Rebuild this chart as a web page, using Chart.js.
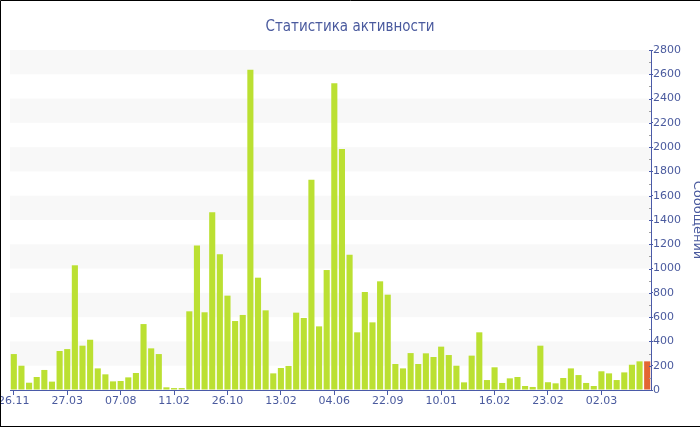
<!DOCTYPE html>
<html><head><meta charset="utf-8">
<script src="https://cdn.jsdelivr.net/npm/chart.js@4"></script>
<style>html,body{margin:0;padding:0;background:#fff}#wrap{position:relative;width:700px;height:430px}</style>
</head><body><div id="wrap"><canvas id="c" width="700" height="430"></canvas></div>
<script>
const chartTitle = 'Статистика активности';
const yTitle = 'Сообщений';
const tickLabels = ['26.11','27.03','07.08','11.02','26.10','13.02','04.06','22.09','10.01','16.02','23.02','02.03'];
const labelEvery = 7;
const messages = [296,200,60,107,165,69,321,337,1027,365,
  414,178,129,71,74,104,140,543,343,296,
  22,16,16,648,1191,640,1463,1117,777,568,
  618,2638,925,656,137,181,198,637,593,1732,
  524,988,2526,1985,1114,475,807,557,895,785,
  214,178,304,214,302,272,357,288,200,63,
  283,475,82,187,58,96,107,33,25,365,
  64,55,99,178,123,58,33,154,137,82,
  145,208,236,236];
const highlightIndex = messages.length - 1;
const yMin = 0, yMax = 2800, yStep = 200, yMinorStep = 100;

const categories = messages.map((_, i) => i % labelEvery === 0 ? tickLabels[i / labelEvery] : '');

const GREEN = '#bbe032', RED = '#e36632', AXIS = '#4a5aa8', TXT = '#4a5a9e', BAND = '#f8f8f8';
const FONT = "'DejaVu Sans', Verdana, sans-serif";

const bandsPlugin = {
  id: 'bands',
  beforeDatasetsDraw(chart) {
    const {ctx, chartArea: a, scales: {y}} = chart;
    ctx.save();
    ctx.fillStyle = BAND;
    for (let v = yStep; v < yMax; v += 2 * yStep) {
      const y1 = y.getPixelForValue(v + yStep), y2 = y.getPixelForValue(v);
      ctx.fillRect(a.left, y1, a.right - a.left, y2 - y1);
    }
    ctx.restore();
  }
};

const decorPlugin = {
  id: 'decor',
  afterDraw(chart) {
    const {ctx, chartArea: a, scales: {y}} = chart;
    ctx.save();
    ctx.lineWidth = 1;
    for (let v = yMin; v <= yMax; v += yMinorStep) {
      const py = Math.round(y.getPixelForValue(v)) + 0.5;
      ctx.strokeStyle = (v % yStep === 0) ? AXIS : '#a0a0a0';
      ctx.beginPath();
      ctx.moveTo(a.right - 2, py);
      ctx.lineTo(a.right, py);
      ctx.stroke();
    }
    // y axis title
    ctx.fillStyle = TXT;
    ctx.font = "13px " + FONT;
    ctx.textAlign = 'center';
    ctx.textBaseline = 'middle';
    ctx.translate(697, (a.top + a.bottom) / 2);
    ctx.rotate(Math.PI / 2);
    ctx.fillText(yTitle, 0, 0);
    ctx.restore();
    // outer border
    ctx.save();
    ctx.strokeStyle = '#000';
    ctx.lineWidth = 1;
    ctx.beginPath();
    ctx.moveTo(0.5, 426.5);
    ctx.lineTo(0.5, 0.5);
    ctx.lineTo(700, 0.5);
    ctx.moveTo(0, 426.5);
    ctx.lineTo(700, 426.5);
    ctx.stroke();
    ctx.restore();
  }
};

new Chart(document.getElementById('c'), {
  type: 'bar',
  data: {
    labels: categories,
    datasets: [{
      data: messages,
      backgroundColor: c => c.dataIndex === highlightIndex ? RED : GREEN,
      borderWidth: 0,
      barPercentage: 0.8,
      categoryPercentage: 1
    }]
  },
  options: {
    responsive: false,
    animation: false,
    devicePixelRatio: 1,
    layout: {padding: {left: 0, right: 0, top: 0, bottom: 0}},
    plugins: {
      legend: {display: false},
      tooltip: {enabled: false},
      title: {
        display: true, text: chartTitle, color: TXT,
        font: {family: "'DejaVu Sans Condensed', 'DejaVu Sans', sans-serif", size: 15, weight: 'normal'},
        padding: {top: 18, bottom: 14}
      }
    },
    scales: {
      x: {
        z: 1,
        grid: {
          display: true, drawOnChartArea: false, offset: false, tickLength: 5,
          tickColor: c => (c.tick && c.tick.label) ? AXIS : 'rgba(0,0,0,0)'
        },
        border: {color: AXIS, width: 1},
        ticks: {autoSkip: false, maxRotation: 0, minRotation: 0, padding: 0, color: TXT, font: {family: FONT, size: 11}},
        afterFit: s => { s.height = 40; s.paddingLeft = 10; s.paddingRight = 0; }
      },
      y: {
        z: 1,
        position: 'right',
        min: yMin, max: yMax,
        ticks: {stepSize: yStep, padding: 0, color: TXT, font: {family: FONT, size: 11}, callback: v => String(v)},
        grid: {drawOnChartArea: false, tickLength: 2, tickColor: AXIS},
        border: {color: AXIS, width: 1},
        afterFit: s => { s.width = 49; }
      }
    }
  },
  plugins: [bandsPlugin, decorPlugin]
});
</script>
</body></html>
